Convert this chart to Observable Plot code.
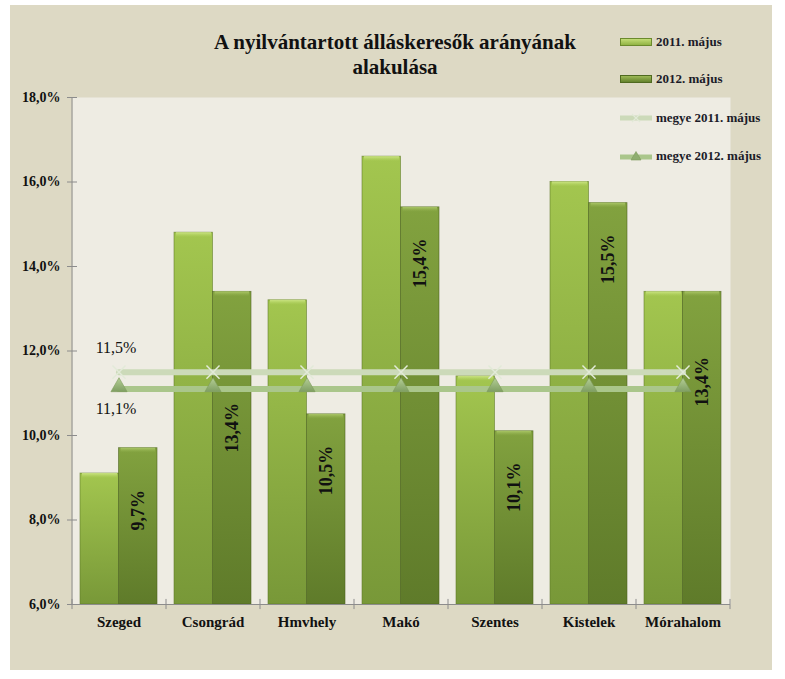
<!DOCTYPE html>
<html><head><meta charset="utf-8">
<script src="https://cdn.jsdelivr.net/npm/d3@7"></script>
<script src="https://cdn.jsdelivr.net/npm/@observablehq/plot@0.6"></script>
<style>
body{margin:0;background:#fff;}
#wrap{position:relative;width:785px;height:679px;overflow:hidden;}
#bg{position:absolute;left:10px;top:5px;width:762px;height:665px;background:#DDD9C4;}
#chart{position:absolute;left:0;top:0;}
#title{position:absolute;left:145px;width:500px;top:30px;text-align:center;font:bold 21px "Liberation Serif";line-height:25px;color:#111;white-space:nowrap;}
.leg{position:absolute;left:620px;height:16px;font:bold 13px "Liberation Serif";color:#1b1b28;display:flex;align-items:center;white-space:nowrap;}
.leg svg{margin-right:4px;}
</style>
</head><body>
<div id="wrap">
  <div id="bg"></div>
  <div id="chart"></div>
  <div id="title">A nyilvántartott álláskeresők arányának<br>alakulása</div>
  <div id="legend"></div>
</div>
<script>
const categories = ["Szeged","Csongrád","Hmvhely","Makó","Szentes","Kistelek","Mórahalom"];
const may2011 = [9.1, 14.8, 13.2, 16.6, 11.4, 16.0, 13.4];
const may2012 = [9.7, 13.4, 10.5, 15.4, 10.1, 15.5, 13.4];
const county2011 = 11.5;
const county2012 = 11.1;
const yTicks = [6, 8, 10, 12, 14, 16, 18];
const seriesNames = ["2011. május", "2012. május", "megye 2011. május", "megye 2012. május"];

const fmt = v => v.toFixed(1).replace(".", ",") + "%";
const rows = categories.map((c, i) => ({cat: c, a: may2011[i], b: may2012[i], m11: county2011, m12: county2012}));

// label placement tweaks (pixels below bar top, rotated labels)
const labelShift = {"Szeged": 62, "Csongrád": 136, "Mórahalom": 90};

const STEP = 94;
const plot = Plot.plot({
  width: 785, height: 679,
  marginLeft: 72, marginRight: 55, marginTop: 97, marginBottom: 75,
  style: {background: "transparent", fontFamily: "Liberation Serif", color: "#111"},
  x: {domain: categories, paddingInner: 0.18, paddingOuter: 0.09, axis: null, label: null},
  y: {domain: [6, 18], axis: null, label: null},
  marks: [
    Plot.frame({fill: "#EEECE3", stroke: null}),
    // bars
    Plot.barY(rows, {x: "cat", y1: 6, y2: "a", insetRight: 38.5, fill: "url(#g11)", stroke: "#5f7a28", strokeWidth: 0.8, strokeOpacity: 0.7}),
    Plot.barY(rows, {x: "cat", y1: 6, y2: "b", insetLeft: 38.5, fill: "url(#g12)", stroke: "#4c6320", strokeWidth: 0.8, strokeOpacity: 0.7}),
    // bevel highlights
    Plot.barY(rows, {x: "cat", y1: "a", y2: "a", insetRight: 40, insetLeft: 2, insetBottom: -5, fill: "url(#bev11)"}),
    Plot.barY(rows, {x: "cat", y1: "b", y2: "b", insetLeft: 40.5, insetRight: 2, insetBottom: -5, fill: "url(#bev12)"}),
    // axes
    Plot.ruleY([6], {stroke: "#8c8c8c"}),
    Plot.ruleX([categories[0]], {x: d => d, dx: -STEP / 2, y1: 6, y2: 18, stroke: "#8c8c8c"}),
    Plot.ruleX(categories, {x: d => d, dx: -STEP / 2, y1: 6.12, y2: 5.88, stroke: "#8c8c8c"}),
    Plot.ruleX([categories[categories.length - 1]], {x: d => d, dx: STEP / 2, y1: 6.12, y2: 5.88, stroke: "#8c8c8c"}),
    Plot.axisY({ticks: yTicks, tickFormat: fmt, tickSize: 10, dx: 5, tickPadding: 7, fontSize: 14, fontWeight: "bold", stroke: "#8c8c8c", label: null}),
    Plot.axisX({tickSize: 0, tickPadding: 12, fontSize: 15, fontWeight: "bold", label: null}),
    // county lines
    Plot.lineY(rows, {x: "cat", y: "m11", stroke: "#CCDAB9", strokeWidth: 6}),
    Plot.dot(rows, {x: "cat", y: "m11", symbol: "times", r: 6, stroke: "#E2EAD8", strokeWidth: 1.5}),
    Plot.lineY(rows, {x: "cat", y: "m12", stroke: "#AAC68B", strokeWidth: 6}),
    Plot.dot(rows, {x: "cat", y: "m12", symbol: "triangle", r: 6, fill: "url(#gtri)", stroke: "#7d9a5c", strokeWidth: 0.6, dy: -2}),
    // county labels
    Plot.text([rows[0]], {x: "cat", y: "m11", text: d => fmt(d.m11), dy: -24, dx: -3, fontSize: 16, fill: "#111"}),
    Plot.text([rows[0]], {x: "cat", y: "m12", text: d => fmt(d.m12), dy: 20, dx: -3, fontSize: 16, fill: "#111"}),
    // bar value labels (2012)
    ...rows.map(r => Plot.text([r], {x: "cat", y: "b", text: d => fmt(d.b), rotate: -90, dx: 19.5, dy: labelShift[r.cat] ?? 56, fontSize: 18, fontWeight: "bold", fill: "#111"}))
  ]
});

plot.insertAdjacentHTML("afterbegin", `
<defs>
  <linearGradient id="g11" x1="0" y1="0" x2="0" y2="1">
    <stop offset="0" stop-color="#A3C64F"/><stop offset="1" stop-color="#789838"/>
  </linearGradient>
  <linearGradient id="g12" x1="0" y1="0" x2="0" y2="1">
    <stop offset="0" stop-color="#82A23F"/><stop offset="1" stop-color="#5F7B2A"/>
  </linearGradient>
  <linearGradient id="bev11" x1="0" y1="0" x2="0" y2="1">
    <stop offset="0" stop-color="#D2EA8C" stop-opacity="0.9"/><stop offset="1" stop-color="#B5D461" stop-opacity="0"/>
  </linearGradient>
  <linearGradient id="bev12" x1="0" y1="0" x2="0" y2="1">
    <stop offset="0" stop-color="#B2CE6E" stop-opacity="0.9"/><stop offset="1" stop-color="#93B050" stop-opacity="0"/>
  </linearGradient>
  <linearGradient id="gtri" x1="0" y1="0" x2="0" y2="1">
    <stop offset="0" stop-color="#B5CF96"/><stop offset="1" stop-color="#7F9E62"/>
  </linearGradient>
</defs>`);
document.getElementById("chart").appendChild(plot);

// legend
const swatches = [
  `<svg width="32" height="10"><defs><linearGradient id="l1" x1="0" y1="0" x2="0" y2="1"><stop offset="0" stop-color="#C7E07A"/><stop offset="1" stop-color="#8DB040"/></linearGradient></defs><rect x="0.5" y="1.5" width="31" height="7" fill="url(#l1)" stroke="#6b8a2c"/></svg>`,
  `<svg width="32" height="10"><defs><linearGradient id="l2" x1="0" y1="0" x2="0" y2="1"><stop offset="0" stop-color="#A2BE5A"/><stop offset="1" stop-color="#5F7E2A"/></linearGradient></defs><rect x="0.5" y="1.5" width="31" height="7" fill="url(#l2)" stroke="#4f6a20"/></svg>`,
  `<svg width="32" height="12"><line x1="0" x2="32" y1="6" y2="6" stroke="#CCDAB9" stroke-width="5" stroke-linecap="round"/><path d="M12,2L20,10M20,2L12,10" stroke="#E2EAD8" stroke-width="1.2"/></svg>`,
  `<svg width="32" height="12"><line x1="0" x2="32" y1="7" y2="7" stroke="#AAC68B" stroke-width="5" stroke-linecap="round"/><path d="M16,1.5L21,10L11,10Z" fill="#8FAE70" stroke="#7d9a5c" stroke-width="0.6"/></svg>`
];
const centers = [42, 79, 118, 156];
const leg = document.getElementById("legend");
seriesNames.forEach((name, i) => {
  const d = document.createElement("div");
  d.className = "leg";
  d.style.top = (centers[i] - 8) + "px";
  d.innerHTML = swatches[i] + "<span>" + name + "</span>";
  leg.appendChild(d);
});
</script>
</body></html>
